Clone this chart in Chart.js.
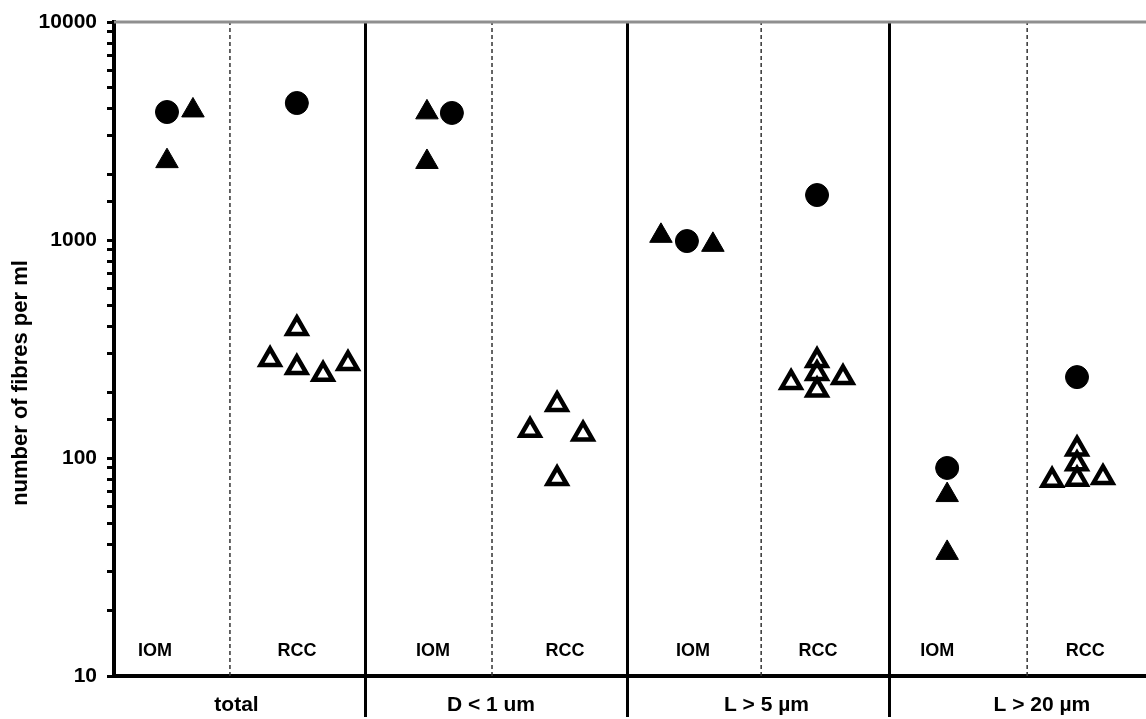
<!DOCTYPE html>
<html>
<head>
<meta charset="utf-8">
<script src="https://cdn.jsdelivr.net/npm/chart.js@4/dist/chart.umd.min.js"></script>
<style>
  html, body { margin: 0; padding: 0; background: #fff; }
  #wrap { width: 1146px; height: 719px; }
</style>
</head>
<body>
<div id="wrap"><canvas id="fibres" width="1146" height="719"></canvas></div>
<script>
// Fibre size fractions (one column per fraction) and the two samplers in each
const fractions = ['total', 'D < 1 um', 'L > 5 µm', 'L > 20 µm'];
const fractionLabelAt = [0.51, 1.48, 2.53, 3.58];
const samplers = ['IOM', 'RCC'];
const samplerLabelAt = [[0.199, 0.741], [1.259, 1.762], [2.250, 2.727], [3.181, 3.745]];
const fractionBounds = [1, 2, 3];
const samplerBounds = [0.485, 1.484, 2.510, 3.524];
const yTickValues = [10, 100, 1000, 10000];
const yTitle = 'number of fibres per ml';

// filled circles
const circleX = [0.245, 0.740, 1.331, 2.227, 2.723, 3.219, 3.714];
const circleY = [3865, 4250, 3826, 989, 1608, 90, 235];

// filled triangles (IOM)
const solidTriX = [0.344, 0.245, 1.236, 1.236, 2.128, 2.326, 3.219, 3.219];
const solidTriY = [3930, 2300, 3850, 2280, 1045, 950, 67.6, 36.7];

// open triangles (RCC)
const openTriX = [0.740, 0.638, 0.740, 0.840, 0.935,
                  1.732, 1.629, 1.831, 1.732,
                  2.723, 2.624, 2.723, 2.822, 2.723,
                  3.714, 3.619, 3.714, 3.714, 3.813];
const openTriY = [393, 283, 260, 242, 271,
                  176, 134, 129, 80.5,
                  280, 222, 244, 234, 205,
                  110, 79, 94, 80, 81.4];

const FONT = '"Liberation Sans", Arial, Helvetica, sans-serif';

const toPoints = (xs, ys) => xs.map((x, i) => ({ x: x, y: ys[i] }));

const dividerSets = samplerBounds.map(b => ({
  type: 'scatter',
  data: [{ x: b, y: 10 }, { x: b, y: 10000 }],
  showLine: true,
  borderColor: '#333',
  borderWidth: 1.5,
  borderDash: [4, 3],
  pointRadius: 0,
  order: 5
}));

const sideLabels = {
  id: 'sideLabels',
  afterDatasetsDraw(chart) {
    const { ctx, chartArea, scales } = chart;
    const x = scales.x, y = scales.y;
    ctx.save();
    // upper frame line
    ctx.strokeStyle = '#8f8f8f';
    ctx.lineWidth = 3;
    ctx.beginPath();
    ctx.moveTo(chartArea.left, chartArea.top);
    ctx.lineTo(chartArea.right, chartArea.top);
    ctx.stroke();
    // sampler names at the foot of each column
    ctx.fillStyle = '#000';
    ctx.font = 'bold 18px ' + FONT;
    ctx.textAlign = 'center';
    ctx.textBaseline = 'middle';
    const yPix = y.getPixelForValue(13);
    samplerLabelAt.forEach(pair => {
      pair.forEach((pos, k) => ctx.fillText(samplers[k], x.getPixelForValue(pos), yPix));
    });
    // vertical axis title, sitting a little below the middle of the axis
    ctx.translate(21, (chartArea.top + chartArea.bottom) / 2 + 34);
    ctx.rotate(-Math.PI / 2);
    ctx.font = 'bold 22px ' + FONT;
    ctx.fillText(yTitle, 0, 0);
    ctx.restore();
  }
};

new Chart(document.getElementById('fibres'), {
  type: 'scatter',
  data: {
    datasets: [
      {
        data: toPoints(circleX, circleY),
        pointStyle: 'circle',
        pointRadius: 11.5,
        backgroundColor: '#000',
        borderColor: '#000',
        borderWidth: 1,
        order: 1
      },
      {
        data: toPoints(solidTriX, solidTriY),
        pointStyle: 'triangle',
        pointRadius: 13,
        backgroundColor: '#000',
        borderColor: '#000',
        borderWidth: 1,
        order: 2
      },
      {
        data: toPoints(openTriX, openTriY),
        pointStyle: 'triangle',
        pointRadius: 11,
        backgroundColor: 'rgba(255,255,255,0)',
        borderColor: '#000',
        borderWidth: 4.5,
        order: 3
      },
      ...dividerSets
    ]
  },
  options: {
    responsive: false,
    animation: false,
    devicePixelRatio: 1,
    events: [],
    layout: { autoPadding: false, padding: { top: 22, left: 0, right: 0, bottom: 0 } },
    plugins: { legend: { display: false }, tooltip: { enabled: false } },
    scales: {
      x: {
        type: 'linear',
        position: 'bottom',
        min: 0.043,
        max: 3.977,
        afterFit(s) {
          s.height = 43;
          s.paddingLeft = 0;
          s.paddingRight = 0;
        },
        afterBuildTicks(s) {
          const t = fractionLabelAt.map(v => ({ value: v }))
            .concat(fractionBounds.map(v => ({ value: v })));
          t.sort((a, b) => a.value - b.value);
          s.ticks = t;
        },
        ticks: {
          autoSkip: false,
          maxRotation: 0,
          minRotation: 0,
          padding: -24,
          color: '#000',
          font: { family: FONT, size: 21, weight: 'bold' },
          callback(v) {
            const i = fractionLabelAt.indexOf(v);
            return i >= 0 ? fractions[i] : '';
          }
        },
        grid: {
          drawOnChartArea: true,
          drawTicks: true,
          tickLength: 41,
          color: c => (c.tick && fractionBounds.includes(c.tick.value)) ? '#000' : 'rgba(0,0,0,0)',
          lineWidth: c => (c.tick && fractionBounds.includes(c.tick.value)) ? 3 : 0
        },
        border: { display: true, color: '#000', width: 4 }
      },
      y: {
        type: 'logarithmic',
        min: 10,
        max: 10000,
        afterFit(s) {
          s.width = 114;
          s.paddingTop = 0;
          s.paddingBottom = 0;
        },
        ticks: {
          autoSkip: false,
          padding: 10,
          color: '#000',
          font: { family: FONT, size: 21, weight: 'bold' },
          callback(v) { return yTickValues.includes(v) ? String(v) : ''; }
        },
        grid: {
          drawOnChartArea: false,
          drawTicks: true,
          tickLength: 7,
          color: '#000',
          lineWidth: 3
        },
        border: { display: true, color: '#000', width: 4 },
        title: { display: false }
      }
    }
  },
  plugins: [sideLabels]
});
</script>
</body>
</html>
